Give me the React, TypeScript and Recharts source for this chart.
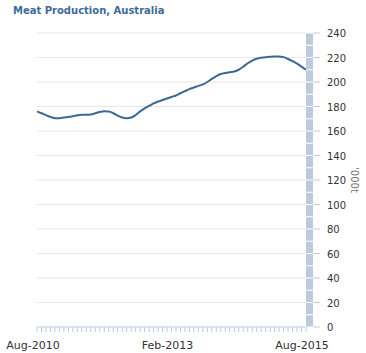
import { CartesianGrid, Line, LineChart, XAxis, YAxis } from 'recharts'

// monthly meat production, '000 tonnes, Aug-2010 .. Aug-2015
const production = [
  176, 174.5, 173, 171.5, 170.5, 170.5, 171, 171.5, 172, 172.8,
  173.3, 173.2, 173.5, 174.5, 175.5, 176.2, 176, 174.5, 172.5, 171,
  170.5, 171, 173, 176, 178.5, 180.5, 182.5, 184, 185.3, 186.5,
  187.8, 189, 190.8, 192.5, 194.2, 195.5, 196.8, 198, 200, 202.5,
  204.8, 206.5, 207.3, 208, 208.5, 210, 212.5, 215.3, 217.5, 219,
  219.8, 220.3, 220.6, 220.8, 220.8, 220.3, 218.8, 217, 215, 212.5,
  210,
]

const monthNames = ['Jan', 'Feb', 'Mar', 'Apr', 'May', 'Jun', 'Jul', 'Aug', 'Sep', 'Oct', 'Nov', 'Dec']
const startYear = 2010
const startMonth = 7 // Aug

const labelledMonths = ['Aug-2010', 'Feb-2013', 'Aug-2015']
const yTicks = [0, 10, 20, 30, 40, 50, 60, 70, 80, 90, 100, 110, 120, 130, 140, 150, 160, 170, 180, 190, 200, 210, 220, 230, 240]
const gridValues = [20, 40, 60, 80, 100, 120, 140, 160, 180, 200, 220, 240]

const data = production.map((value, i) => {
  const m = startMonth + i
  return {
    month: `${monthNames[m % 12]}-${startYear + Math.floor(m / 12)}`,
    value,
  }
})

const FONT = '"DejaVu Sans", Verdana, sans-serif'
const BAR = '#bccbdc'
const PLOT_H = 294
const SEG = PLOT_H / 24

const XTick = (props: any) => {
  const { x, y, payload } = props
  if (!labelledMonths.includes(payload.value)) return null
  return (
    <text x={x - 4} y={y + 15} textAnchor="middle" fontSize={11} fontFamily={FONT} fill="#333">
      {payload.value}
    </text>
  )
}

const YTick = (props: any) => {
  const { x, y, payload } = props
  const v = payload.value as number
  return (
    <g>
      {v > 0 && <rect x={x} y={y + 0.5} width={7} height={SEG - 1} fill={BAR} />}
      {v % 20 === 0 && (
        <>
          <line x1={x + 7} x2={x + 14} y1={y} y2={y} stroke={BAR} strokeWidth={1} />
          <text x={x + 21} y={y + 4} fontSize={10} fontFamily={FONT} fill="#333">
            {v}
          </text>
        </>
      )}
    </g>
  )
}

export default function App() {
  return (
    <div style={{ position: 'absolute', left: 0, top: 0, width: 366, height: 353, background: '#fff' }}>
      <div
        style={{
          position: 'absolute',
          left: 13,
          top: 6,
          fontFamily: FONT,
          fontWeight: 'bold',
          fontSize: 10,
          lineHeight: '10px',
          color: '#3d6a99',
          whiteSpace: 'nowrap',
        }}
      >
        Meat Production, Australia
      </div>
      <LineChart width={366} height={353} data={data} margin={{ top: 33, right: 0, left: 37, bottom: 0 }}>
        <CartesianGrid vertical={false} stroke="#e8e8e8" horizontalValues={gridValues} />
        <XAxis
          dataKey="month"
          interval={0}
          height={26}
          tick={<XTick />}
          tickLine={{ stroke: BAR }}
          tickSize={5}
          axisLine={{ stroke: BAR }}
        />
        <YAxis
          orientation="right"
          domain={[0, 240]}
          ticks={yTicks}
          width={60}
          tick={<YTick />}
          tickLine={false}
          tickSize={0}
          tickMargin={0}
          axisLine={false}
          interval={0}
          label={{
            value: "'000t",
            angle: 90,
            position: 'center',
            dx: 19,
            style: { fontSize: 10, fontFamily: FONT, fill: '#777' },
          }}
        />
        <Line
          type="monotone"
          dataKey="value"
          stroke="#3b6996"
          strokeWidth={2}
          dot={false}
          activeDot={false}
          isAnimationActive={false}
        />
      </LineChart>
    </div>
  )
}
